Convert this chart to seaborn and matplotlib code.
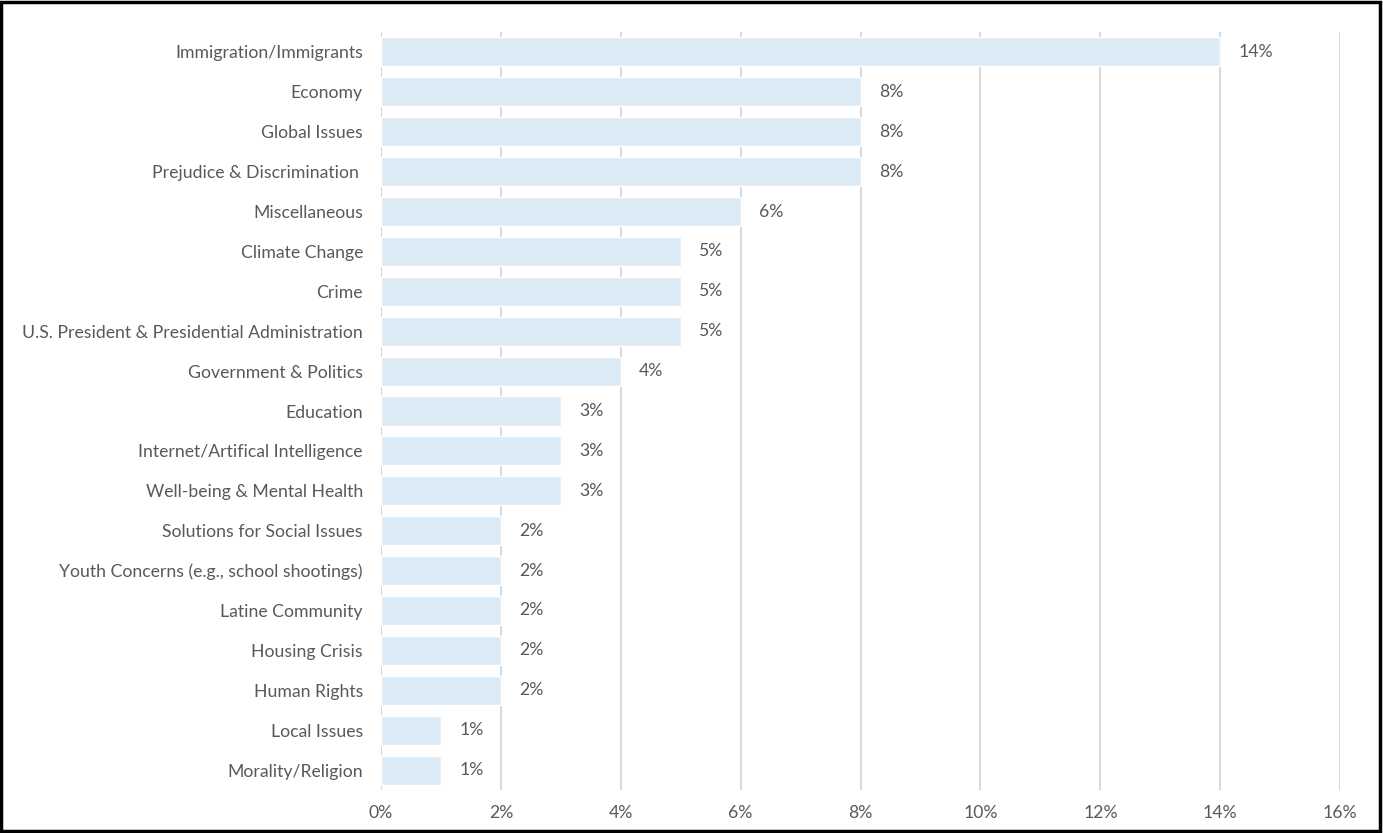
# import the libraries
import pandas as pd
import seaborn as sns
import matplotlib.pyplot as plt
from matplotlib.patches import Rectangle
from matplotlib.ticker import FuncFormatter

# data
topics = [
    "Immigration/Immigrants",
    "Economy",
    "Global Issues",
    "Prejudice & Discrimination ",
    "Miscellaneous",
    "Climate Change",
    "Crime",
    "U.S. President & Presidential Administration",
    "Government & Politics",
    "Education",
    "Internet/Artifical Intelligence",
    "Well-being & Mental Health",
    "Solutions for Social Issues",
    "Youth Concerns (e.g., school shootings)",
    "Latine Community",
    "Housing Crisis",
    "Human Rights",
    "Local Issues",
    "Morality/Religion",
]
shares = [14, 8, 8, 8, 6, 5, 5, 5, 4, 3, 3, 3, 2, 2, 2, 2, 2, 1, 1]
x_ticks = [0, 2, 4, 6, 8, 10, 12, 14, 16]

df = pd.DataFrame({"topic": topics, "share": shares})

sns.set_style("white")
plt.rcParams["font.family"] = ["Lato", "DejaVu Sans"]

text_color = "#595959"

# set the figure dimensions
fig = plt.figure(figsize=(13.83, 8.33), dpi=100)
ax = fig.add_axes([0.2755, 0.0516, 0.6935, 0.91])

# grid behind the bars
ax.set_axisbelow(True)
ax.grid(axis="x", color="#d9d9d9", linewidth=1.5)
ax.grid(axis="y", visible=False)

sns.barplot(data=df, x="share", y="topic", color="#ddebf7", saturation=1,
            width=0.73, ax=ax)

# value labels
for c in ax.containers:
    ax.bar_label(c, labels=[f"{v}%" for v in shares], padding=13,
                 fontsize=12.7, color=text_color)

ax.set_xlim(0, 16)
ax.set_xticks(x_ticks)
ax.xaxis.set_major_formatter(FuncFormatter(lambda v, p: f"{v:.0f}%"))
ax.set_xlabel("")
ax.set_ylabel("")
ax.tick_params(axis="both", length=0, labelsize=12.7, labelcolor=text_color)
ax.tick_params(axis="y", pad=13)
ax.tick_params(axis="x", pad=11)
sns.despine(ax=ax, left=True, bottom=True)

# black frame around the picture
fig.patches.append(Rectangle((0.001, 0.002), 0.997, 0.996, transform=fig.transFigure,
                             fill=False, edgecolor="black", linewidth=2.5))

plt.savefig("out.png", dpi=100)
